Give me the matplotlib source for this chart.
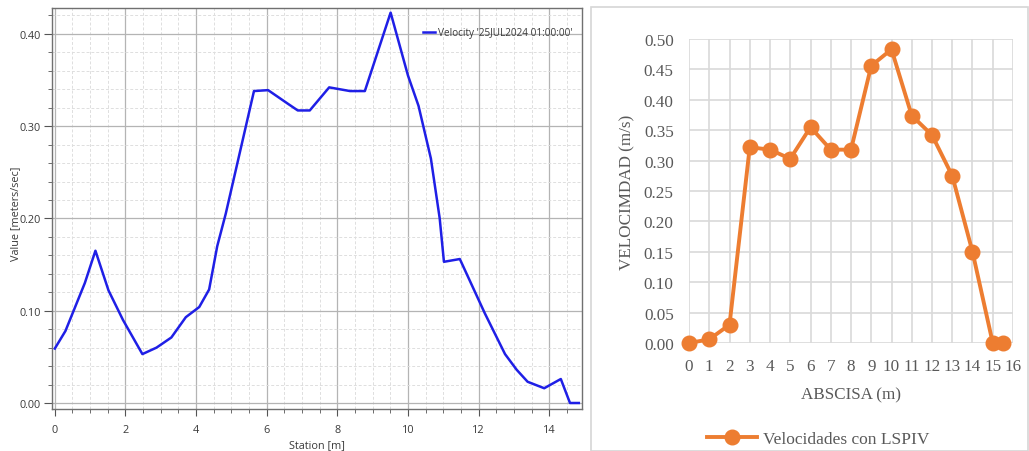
import matplotlib
matplotlib.use("Agg")
import matplotlib.pyplot as plt
from matplotlib.ticker import MultipleLocator, StrMethodFormatter
from matplotlib.patches import Rectangle
from matplotlib.lines import Line2D

# HEC-RAS velocity profile across the section
station_m = [0.00, 0.30, 0.85, 1.15, 1.52, 1.93, 2.48, 2.88, 3.30, 3.71, 4.09, 4.37,
             4.60, 4.84, 5.64, 6.04, 6.42, 6.61, 6.88, 7.22, 7.77, 8.36, 8.78, 9.51,
             10.00, 10.30, 10.65, 10.90, 11.02, 11.47, 12.18, 12.75, 13.08, 13.39,
             13.86, 14.33, 14.59, 14.84]
velocity_ras = [0.059, 0.078, 0.130, 0.165, 0.122, 0.090, 0.053, 0.060, 0.071, 0.093,
                0.104, 0.123, 0.170, 0.205, 0.338, 0.339, 0.329, 0.324, 0.317, 0.317,
                0.342, 0.338, 0.338, 0.423, 0.355, 0.322, 0.265, 0.200, 0.153, 0.156,
                0.097, 0.053, 0.036, 0.023, 0.016, 0.026, 0.000, 0.000]
ras_label = "Velocity '25JUL2024 01:00:00'"

# LSPIV surface velocities
abscisa_m = [0, 1, 2, 3, 4, 5, 6, 7, 8, 9, 10, 11, 12, 13, 14, 15, 15.5]
velocity_lspiv = [0.000, 0.006, 0.030, 0.322, 0.318, 0.303, 0.355, 0.318, 0.318,
                  0.456, 0.483, 0.374, 0.342, 0.275, 0.150, 0.000, 0.000]
lspiv_label = "Velocidades con LSPIV"

W, H = 1029, 452
fig = plt.figure(figsize=(W / 100, H / 100), dpi=100)
fig.patch.set_facecolor("white")

# ---------------- left panel ----------------
sans = ["Open Sans", "DejaVu Sans"]
txt = "#3a3a3a"
ax1 = fig.add_axes([52 / W, 1 - 410 / H, (582 - 52) / W, (410 - 9) / H])
ax1.plot(station_m, velocity_ras, color="#1f1fe6", lw=1.8, label=ras_label, zorder=3)
ax1.set_xlim(-0.08, 14.93)
ax1.set_ylim(-0.0065, 0.428)
ax1.xaxis.set_major_locator(MultipleLocator(2))
ax1.xaxis.set_minor_locator(MultipleLocator(0.5))
ax1.yaxis.set_major_locator(MultipleLocator(0.1))
ax1.yaxis.set_minor_locator(MultipleLocator(0.02))
ax1.yaxis.set_major_formatter(StrMethodFormatter("{x:.2f}"))
ax1.grid(which="major", color="#b4b4b4", lw=0.9, ls="-")
ax1.grid(which="minor", color="#dedede", lw=0.7, ls=(0, (3, 2)))
ax1.set_axisbelow(True)
for s in ax1.spines.values():
    s.set_color("#707070")
    s.set_linewidth(1.0)
ax1.tick_params(which="both", direction="out", color="#555555", labelcolor=txt,
                labelsize=7.8)
ax1.tick_params(axis="y", which="major", length=6, pad=2)
ax1.tick_params(axis="x", which="major", length=5, pad=6)
ax1.tick_params(which="minor", length=3)
for lab in ax1.get_xticklabels() + ax1.get_yticklabels():
    lab.set_family(sans)
ax1.set_xlabel("Station [m]", fontsize=7.8, color=txt, family=sans, labelpad=3)
ax1.set_ylabel("Value [meters/sec]", fontsize=7.8, color=txt, family=sans)
ax1.yaxis.set_label_coords(-0.058, 0.49)
leg1 = ax1.legend(loc="upper right", frameon=False, handlelength=1.2,
                  handletextpad=0.3, prop={"family": sans, "size": 7.2},
                  bbox_to_anchor=(1.0, 0.975))
for t in leg1.get_texts():
    t.set_color(txt)

# ---------------- right panel ----------------
serif = ["Liberation Serif", "DejaVu Serif"]
gray = "#595959"
orange = "#ed7d31"
fs = 12.3
fig.add_artist(Rectangle((590.5 / W, 0), (W - 592) / W, 1 - 7.5 / H,
                         transform=fig.transFigure, fill=False,
                         edgecolor="#d6d6d6", lw=1.2))

ax2 = fig.add_axes([689 / W, 1 - 344 / H, (1013 - 689) / W, (344 - 40) / H])
ax2.plot(abscisa_m, velocity_lspiv, color=orange, lw=2.8, marker="o",
         markersize=10.5, clip_on=False, zorder=3)
ax2.set_xlim(0, 16)
ax2.set_ylim(0, 0.5)
ax2.xaxis.set_major_locator(MultipleLocator(1))
ax2.yaxis.set_major_locator(MultipleLocator(0.05))
ax2.yaxis.set_major_formatter(StrMethodFormatter("{x:.2f}"))
ax2.grid(which="major", color="#d9d9d9", lw=1.2)
ax2.set_axisbelow(True)
for s in ax2.spines.values():
    s.set_visible(False)
ax2.tick_params(length=0, labelsize=fs, labelcolor=gray, pad=11)
for lab in ax2.get_xticklabels() + ax2.get_yticklabels():
    lab.set_family(serif)
ax2.set_xlabel("ABSCISA (m)", fontsize=fs, color=gray, family=serif, labelpad=9)
ax2.set_ylabel("VELOCIMDAD (m/s)", fontsize=fs, color=gray, family=serif)
ax2.yaxis.set_label_coords(-0.165, 0.5)

handle = Line2D([], [], color=orange, lw=2.8, marker="o", markersize=10.5)
leg2 = fig.legend([handle], [lspiv_label], loc="center", frameon=False,
                  bbox_to_anchor=(818 / W, 1 - 440 / H), handlelength=2.9,
                  handletextpad=0.3, prop={"family": serif, "size": 12.5})
for t in leg2.get_texts():
    t.set_color(gray)

fig.savefig("out.png", dpi=100)
